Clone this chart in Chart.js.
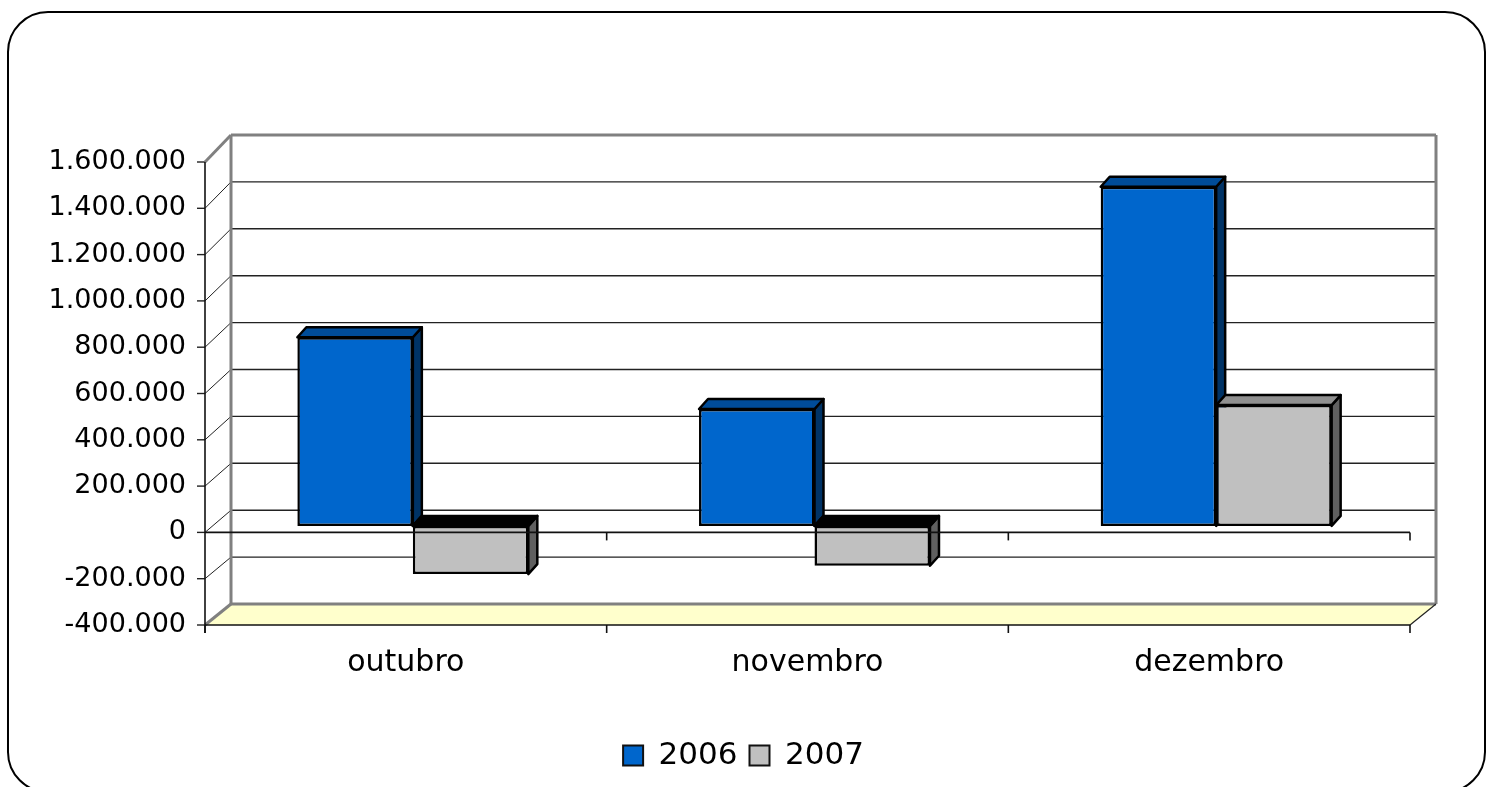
<!DOCTYPE html>
<html>
<head>
<meta charset="utf-8">
<script src="https://cdn.jsdelivr.net/npm/chart.js@4.4.1/dist/chart.umd.min.js"></script>
<style>
  html, body { margin: 0; padding: 0; background: #fff; }
  #wrap { width: 1487px; height: 787px; }
</style>
</head>
<body>
<div id="wrap"><canvas id="c" width="1487" height="787"></canvas></div>
<script>
// ---- data ----
const categories = ['outubro', 'novembro', 'dezembro'];
const seriesNames = ['2006', '2007'];
const values2006 = [815000, 505000, 1465000];
const values2007 = [-208000, -172000, 522000];
const yMin = -400000;
const yMax = 1600000;
const yStep = 200000;

// ---- styling ----
const FONT = 'DejaVu Sans';
const frontColors = ['#0066CC', '#C0C0C0'];
const topColors = ['#004C99', '#909090'];
const sideColors = ['#003366', '#606060'];
const WALL_DX = 26, WALL_DY_TOP = -27, WALL_DY_BOTTOM = -21;
const BAR_SHIFT_X = 7, BAR_SHIFT_Y = -6.5;
const BAR_DX = 9, BAR_DY = -10;

function fmt(v) {
  const s = String(Math.abs(v)).replace(/\B(?=(\d{3})+(?!\d))/g, '.');
  return (v < 0 ? '-' : '') + s;
}

function line(ctx, x1, y1, x2, y2, color, w) {
  ctx.beginPath();
  ctx.strokeStyle = color;
  ctx.lineWidth = w;
  ctx.moveTo(x1, y1);
  ctx.lineTo(x2, y2);
  ctx.stroke();
}

const framePlugin = {
  id: 'frame',
  beforeDraw(chart) {
    const ctx = chart.ctx;
    ctx.save();
    ctx.fillStyle = '#fff';
    ctx.fillRect(0, 0, chart.width, chart.height);
    ctx.beginPath();
    ctx.roundRect(8, 12, 1477, 780, 40);
    ctx.strokeStyle = '#000';
    ctx.lineWidth = 2;
    ctx.stroke();
    ctx.restore();
  }
};

const scene3d = {
  id: 'scene3d',
  beforeDatasetsDraw(chart) {
    const ctx = chart.ctx;
    const a = chart.chartArea;
    const ys = chart.scales.y;
    const backTop = a.top + WALL_DY_TOP;
    const backBottom = a.bottom + WALL_DY_BOTTOM;
    const backY = fy => backBottom + (fy - a.bottom) * (backBottom - backTop) / (a.bottom - a.top);
    const bl = a.left + WALL_DX, br = a.right + WALL_DX;
    ctx.save();
    // floor
    ctx.beginPath();
    ctx.moveTo(a.left, a.bottom);
    ctx.lineTo(a.right, a.bottom);
    ctx.lineTo(br, backBottom);
    ctx.lineTo(bl, backBottom);
    ctx.closePath();
    ctx.fillStyle = '#FFFFCC';
    ctx.fill();
    // back gridlines + side diagonals
    const ticks = ys.ticks.map(t => t.value);
    ticks.forEach(v => {
      const fy = ys.getPixelForValue(v);
      const by = backY(fy);
      if (v !== yMin && v !== yMax) {
        line(ctx, bl, by, br, by, '#222', 1.4);
        line(ctx, a.left, fy, bl, by, '#222', 1);
      }
      line(ctx, a.left - 8, fy, a.left, fy, '#222', 1.4);
    });
    // wall borders (gray)
    line(ctx, bl, backTop, br, backTop, '#808080', 3);
    line(ctx, bl, backTop, bl, backBottom, '#808080', 3);
    line(ctx, br, backTop, br, backBottom, '#808080', 3);
    line(ctx, bl, backBottom, br, backBottom, '#808080', 3);
    line(ctx, a.left, a.top, bl, backTop, '#808080', 3);
    line(ctx, a.left, a.bottom, bl, backBottom, '#808080', 3);
    line(ctx, a.right, a.bottom, br, backBottom, '#222', 1.2);
    // floor front edge and front axis
    line(ctx, a.left, a.bottom, a.right, a.bottom, '#111', 1.6);
    line(ctx, a.left, a.top, a.left, a.bottom + 8, '#111', 1.6);
    const n = categories.length;
    for (let i = 0; i <= n; i++) {
      const x = a.left + (a.right - a.left) * i / n;
      line(ctx, x, a.bottom, x, a.bottom + 8, '#111', 1.6);
    }
    // bar 3d faces (bar plane shifted into depth)
    ctx.translate(BAR_SHIFT_X, BAR_SHIFT_Y);
    chart.data.datasets.forEach((ds, di) => {
      const meta = chart.getDatasetMeta(di);
      meta.data.forEach(el => {
        const p = el.getProps(['x', 'y', 'base', 'width'], true);
        const l = p.x - p.width / 2, r = p.x + p.width / 2;
        const top = Math.min(p.y, p.base), bot = Math.max(p.y, p.base);
        const neg = p.y > p.base;
        ctx.lineJoin = 'round';
        ctx.lineWidth = 2.5;
        ctx.strokeStyle = '#000';
        ctx.beginPath();
        ctx.moveTo(r, top); ctx.lineTo(r + BAR_DX, top + BAR_DY);
        ctx.lineTo(r + BAR_DX, bot + BAR_DY); ctx.lineTo(r, bot); ctx.closePath();
        ctx.fillStyle = sideColors[di]; ctx.fill(); ctx.stroke();
        ctx.beginPath();
        ctx.moveTo(l, top); ctx.lineTo(l + BAR_DX, top + BAR_DY);
        ctx.lineTo(r + BAR_DX, top + BAR_DY); ctx.lineTo(r, top); ctx.closePath();
        ctx.fillStyle = neg ? '#000' : topColors[di]; ctx.fill(); ctx.stroke();
      });
    });
  },
  afterDatasetsDraw(chart) {
    const ctx = chart.ctx;
    ctx.restore();
    const a = chart.chartArea;
    const y0 = chart.scales.y.getPixelForValue(0);
    ctx.save();
    line(ctx, a.left, y0, a.right, y0, '#111', 1.6);
    const n = categories.length;
    for (let i = 1; i <= n; i++) {
      const x = a.left + (a.right - a.left) * i / n;
      line(ctx, x, y0, x, y0 + 8, '#111', 1.6);
    }
    ctx.restore();
  }
};

Chart.defaults.font.family = FONT;
Chart.defaults.color = '#000';

new Chart(document.getElementById('c'), {
  type: 'bar',
  data: {
    labels: categories,
    datasets: [
      { label: seriesNames[0], data: values2006, backgroundColor: frontColors[0], borderColor: '#000', borderWidth: 2.5, borderSkipped: false, clip: false },
      { label: seriesNames[1], data: values2007, backgroundColor: frontColors[1], borderColor: '#000', borderWidth: 2.5, borderSkipped: false, clip: false }
    ]
  },
  options: {
    responsive: false,
    animation: false,
    devicePixelRatio: 1,
    categoryPercentage: 0.575,
    barPercentage: 1.0,
    layout: { padding: { top: 162, right: 0, bottom: 6, left: 0 } },
    plugins: {
      tooltip: { enabled: false },
      legend: {
        position: 'bottom',
        labels: {
          font: { size: 31, family: FONT },
          color: '#000',
          boxWidth: 20,
          boxHeight: 20,
          padding: 12,
          generateLabels(chart) {
            const items = Chart.defaults.plugins.legend.labels.generateLabels(chart);
            items.forEach(it => { it.lineWidth = 2; it.strokeStyle = '#111'; });
            return items;
          }
        }
      }
    },
    scales: {
      x: {
        grid: { display: false, drawTicks: false },
        border: { display: false },
        ticks: { font: { size: 30, family: FONT }, color: '#000', padding: 20 },
        afterFit(s) {
          const lh = s.chart.legend ? s.chart.legend.height : 0;
          s.height = 787 - 6 - lh - 625;
        }
      },
      y: {
        min: yMin,
        max: yMax,
        grid: { display: false, drawTicks: false },
        border: { display: false },
        ticks: {
          stepSize: yStep,
          padding: 19,
          font: { size: 27, family: FONT },
          color: '#000',
          callback: v => fmt(v)
        },
        afterFit(s) { s.width = 205; }
      },
      yRight: {
        position: 'right',
        display: true,
        min: yMin,
        max: yMax,
        grid: { display: false, drawTicks: false },
        border: { display: false },
        ticks: { display: false },
        afterFit(s) { s.width = 77; }
      }
    }
  },
  plugins: [framePlugin, scene3d]
});
</script>
</body>
</html>
